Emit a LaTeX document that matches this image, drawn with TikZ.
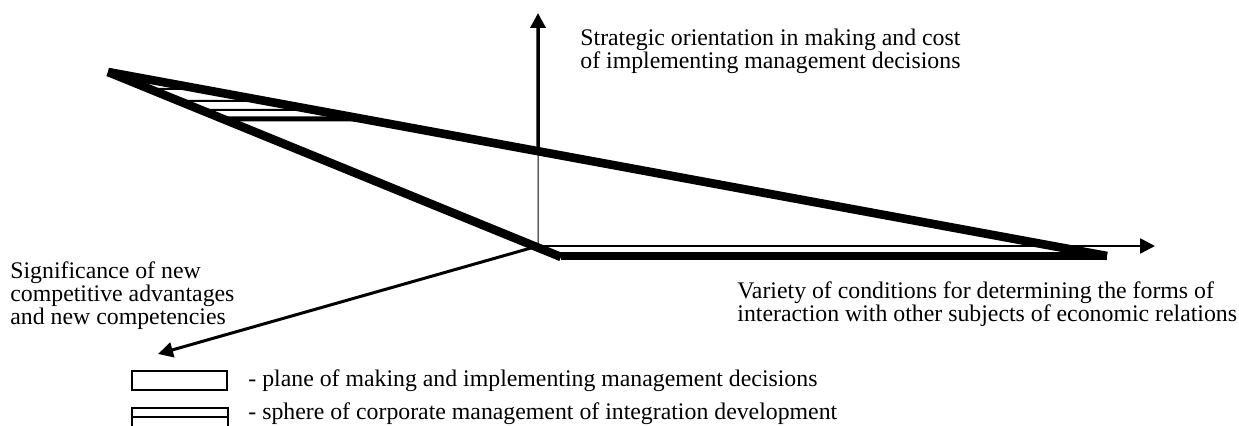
\documentclass[tikz,border=0pt]{standalone}
\usepackage{fontspec}
\setmainfont{Liberation Serif}
\usetikzlibrary{arrows.meta}

\begin{document}
\begin{tikzpicture}[line cap=butt,line join=miter,x=0.5pt,y=-0.5pt,
  >={Triangle[length=7.5pt,width=7.5pt]},
  edge/.style={line width=4.3pt},
  axis/.style={->,line width=1.6pt},
  lbl/.style={anchor=north west,inner sep=0pt,align=left,font=\fontsize{11.9}{11.5}\selectfont}]
  \useasboundingbox (0,0) rectangle (1239,426);
  % origin, axis tips and corners of the plane
  \coordinate (O) at (538,246);
  \coordinate (ytip) at (538,13);
  \coordinate (xtip) at (1155,246);
  \coordinate (ztip) at (158,354);
  \coordinate (A) at (108,72);
  \coordinate (B) at (561,257);
  \coordinate (C) at (1107,256);
  \coordinate (B') at (561,256);
  % hatching of the sphere near the apex
  \foreach \y/\w in {89/1pt,101/1pt,110/1pt,119/2.5pt}{
    \coordinate (h1) at (0,\y);
    \coordinate (h2) at (1239,\y);
    \draw[line width=\w] (intersection of A--B and h1--h2) -- (intersection of A--C and h1--h2);
  }
  % axes
  \coordinate (V) at (intersection of A--C and O--ytip);
  \draw[line width=0.5pt] (O) -- (V);
  \draw[axis,line width=1.75pt] (V) -- (ytip);
  \draw[axis,line width=1.25pt] (O) -- (xtip);
  \draw[axis,line width=1.5pt] (O) -- (ztip);
  % plane
  \draw[edge] (A) -- (C);
  \draw[edge] (A) -- (B);
  \draw[edge] (B') -- (C);
  % axis labels
  \node[lbl] (ylab) at (580,29) {Strategic orientation in making and cost\\of implementing management decisions};
  \node[lbl] (zlab) at (10,261) {Significance of new\\competitive advantages\\and new competencies};
  \node[lbl] (xlab) at (737,281) {Variety of conditions for determining the forms of\\interaction with other subjects of economic relations};
  % legend
  \draw[line width=0.8pt] (132,371) rectangle (227,390);
  \draw[line width=0.8pt] (132,408) rectangle (228,432);
  \draw[line width=0.8pt] (132,417) -- (228,417);
  \node[lbl] (leg1) at (248,369) {- plane of making and implementing management decisions};
  \node[lbl] (leg2) at (248,402) {- sphere of corporate management of integration development};
\end{tikzpicture}
\end{document}
